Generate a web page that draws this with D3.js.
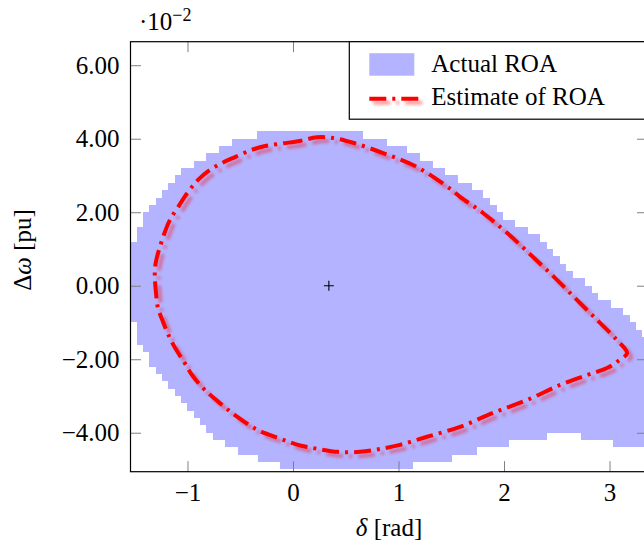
<!DOCTYPE html>
<meta charset="utf-8">
<style>
  body { margin: 0; background: #fff; }
  text { font-family: "Liberation Serif", "DejaVu Serif", serif; font-size: 25px; fill: #000; }
  .tick line { stroke: #808080; stroke-width: 1; }
</style>
<body>
<script src="https://cdn.jsdelivr.net/npm/d3@7"></script>
<script>

  // simulated region of attraction: grid rows (top edge in pu) and the
  // delta spans [from, to] in rad that are stable in each row
  var roaRowTop = [0.042, 0.040, 0.038, 0.036, 0.034, 0.032, 0.030, 0.028, 0.026, 0.024,
    0.022, 0.020, 0.018, 0.016, 0.014, 0.012, 0.010, 0.008, 0.006, 0.004,
    0.002, 0.000, -0.002, -0.004, -0.006, -0.008, -0.010, -0.012, -0.014, -0.016,
    -0.018, -0.020, -0.022, -0.024, -0.026, -0.028, -0.030, -0.032, -0.034, -0.036,
    -0.038, -0.040, -0.042, -0.044, -0.046, -0.048];
  var roaRowSpans = [
    [[-0.34, 0.66]], [[-0.58, 0.89]], [[-0.70, 1.08]], [[-0.82, 1.20]], [[-0.94, 1.33]],
    [[-1.06, 1.44]], [[-1.12, 1.56]], [[-1.18, 1.70]], [[-1.24, 1.80]], [[-1.30, 1.87]],
    [[-1.36, 1.93]], [[-1.42, 1.99]], [[-1.42, 2.10]], [[-1.48, 2.23]], [[-1.48, 2.34]],
    [[-1.60, 2.41]], [[-1.60, 2.46]], [[-1.60, 2.53]], [[-1.60, 2.59]], [[-1.60, 2.65]],
    [[-1.60, 2.77]], [[-1.60, 2.83]], [[-1.60, 2.89]], [[-1.60, 3.01]], [[-1.60, 3.13]],
    [[-1.60, 3.19]], [[-1.48, 3.25]], [[-1.48, 3.31]], [[-1.48, 3.45]], [[-1.42, 3.45]],
    [[-1.36, 3.45]], [[-1.36, 3.45]], [[-1.30, 3.45]], [[-1.24, 3.45]], [[-1.18, 3.45]],
    [[-1.12, 3.45]], [[-1.06, 3.45]], [[-1.00, 3.45]], [[-0.94, 3.45]], [[-0.88, 3.45]],
    [[-0.82, 3.45]], [[-0.76, 2.41], [2.73, 3.45]], [[-0.64, 2.05], [3.03, 3.45]],
    [[-0.52, 1.74]], [[-0.33, 1.51]], [[-0.12, 1.14]]
  ];
  var roaRowHeight = 0.002;

  // estimated ROA boundary (closed curve)
  var estDelta = [0.227, 0.066, -0.104, -0.265, -0.389, -0.550, -0.673, -0.787, -0.900, -0.995,
    -1.090, -1.166, -1.213, -1.261, -1.289, -1.308, -1.308, -1.299, -1.280, -1.232,
    -1.185, -1.118, -1.033, -0.957, -0.834, -0.673, -0.550, -0.332, -0.142, 0.047,
    0.237, 0.427, 0.635, 0.825, 1.014, 1.270, 1.583, 1.896, 2.218, 2.531,
    2.787, 2.976, 3.081, 3.166, 3.071, 2.910, 2.720, 2.502, 2.275, 2.028,
    1.801, 1.583, 1.488, 1.175, 0.853, 0.569, 0.379];
  var estOmega = [0.0404, 0.0394, 0.0387, 0.0380, 0.0370, 0.0350, 0.0334, 0.0315, 0.0288, 0.0255,
    0.0214, 0.0179, 0.0147, 0.0106, 0.0078, 0.0048, 0.0016, -0.0017, -0.0060, -0.0098,
    -0.0131, -0.0169, -0.0207, -0.0243, -0.0284, -0.0324, -0.0352, -0.0393, -0.0414, -0.0433,
    -0.0444, -0.0452, -0.0452, -0.0444, -0.0433, -0.0411, -0.0384, -0.0346, -0.0311, -0.0270,
    -0.0243, -0.0224, -0.0205, -0.0183, -0.0148, -0.0101, -0.0047, 0.0016, 0.0078, 0.0144,
    0.0198, 0.0242, 0.0264, 0.0323, 0.0361, 0.0389, 0.0402];

  var eqPoint = [0.34, 0];
  var xTicks = [-1, 0, 1, 2, 3];
  var yTicks = [-0.04, -0.02, 0, 0.02, 0.04, 0.06];
  var legendLabels = ["Actual ROA", "Estimate of ROA"];

  var margin = { top: 41.7, left: 130.5 },
    width = 517,
    height = 430;

  var x = d3.scaleLinear().domain([-1.54, 3.36]).range([0, width]);
  var y = d3.scaleLinear().domain([-0.0506, 0.0664]).range([height, 0]);

  var svg = d3.select("body").append("svg")
    .attr("width", 644)
    .attr("height", 550);

  var defs = svg.append("defs");
  defs.append("clipPath").attr("id", "plotclip")
    .append("rect").attr("width", width).attr("height", height);

  // soft shadow under the red curve
  var f = defs.append("filter").attr("id", "shadow")
    .attr("filterUnits", "userSpaceOnUse")
    .attr("x", -200).attr("y", -200).attr("width", 1200).attr("height", 1000);
  f.append("feGaussianBlur").attr("in", "SourceGraphic").attr("stdDeviation", 1.4).attr("result", "b");
  f.append("feOffset").attr("in", "b").attr("dx", 3.5).attr("dy", 3.5).attr("result", "o");
  f.append("feComponentTransfer").attr("in", "o").attr("result", "s")
    .append("feFuncA").attr("type", "linear").attr("slope", 0.38);
  var fm = f.append("feMerge");
  fm.append("feMergeNode").attr("in", "s");
  fm.append("feMergeNode").attr("in", "SourceGraphic");

  var g = svg.append("g")
    .attr("transform", "translate(" + margin.left + "," + margin.top + ")");

  var plot = g.append("g").attr("clip-path", "url(#plotclip)");

  // actual ROA cells
  var cells = [];
  roaRowTop.forEach(function (top, i) {
    roaRowSpans[i].forEach(function (s) {
      cells.push({ top: top, x0: s[0], x1: s[1] });
    });
  });
  plot.selectAll(".cell")
    .data(cells)
    .enter().append("rect")
    .attr("class", "cell")
    .attr("x", function (d) { return x(d.x0); })
    .attr("width", function (d) { return x(d.x1) - x(d.x0); })
    .attr("y", function (d) { return y(d.top); })
    .attr("height", function (d) { return y(d.top - roaRowHeight) - y(d.top); })
    .attr("fill", "#b3b3ff")
    .attr("shape-rendering", "crispEdges");

  // estimate of ROA
  var est = estDelta.map(function (d, i) { return [d, estOmega[i]]; });
  var line = d3.line()
    .x(function (d) { return x(d[0]); })
    .y(function (d) { return y(d[1]); })
    .curve(d3.curveCatmullRomClosed.alpha(0.5));

  plot.append("path")
    .datum(est)
    .attr("d", line)
    .attr("fill", "none")
    .attr("stroke", "#ff0000")
    .attr("stroke-width", 4)
    .attr("stroke-dasharray", "17,6,3,6")
    .attr("filter", "url(#shadow)");

  // equilibrium marker
  var ex = x(eqPoint[0]), ey = y(eqPoint[1]);
  plot.append("path")
    .attr("d", "M" + (ex - 5) + "," + ey + "H" + (ex + 5) + "M" + ex + "," + (ey - 5) + "V" + (ey + 5))
    .attr("stroke", "#000").attr("stroke-width", 1.1);

  // axes, ticks pointing inward on all sides
  var fmtY = function (d) { return (d * 100).toFixed(2).replace("-", "\u2212"); };
  var serif = function (a) {
    a.attr("font-family", "Liberation Serif, serif").attr("font-size", 25);
    a.select(".domain").remove();
  };

  g.append("g")
    .attr("transform", "translate(0," + height + ")")
    .call(d3.axisBottom(x).tickValues(xTicks).tickSize(-10.5).tickPadding(12).tickFormat(d3.format("d")))
    .call(serif);
  g.append("g")
    .call(d3.axisTop(x).tickValues(xTicks).tickSize(-10.5).tickFormat(""))
    .call(serif);
  g.append("g")
    .call(d3.axisLeft(y).tickValues(yTicks).tickSize(-10.5).tickPadding(11).tickFormat(fmtY))
    .call(serif);
  g.append("g")
    .attr("transform", "translate(" + width + ",0)")
    .call(d3.axisRight(y).tickValues(yTicks).tickSize(-10.5).tickFormat(""))
    .call(serif);

  g.append("rect")
    .attr("width", width).attr("height", height)
    .attr("fill", "none").attr("stroke", "#000").attr("stroke-width", 1.2);

  // legend
  var lg = svg.append("g").attr("transform", "translate(349.3,41.7)");
  lg.append("rect").attr("width", 310).attr("height", 77.5)
    .attr("fill", "#fff").attr("stroke", "#000").attr("stroke-width", 1.2);
  lg.append("rect").attr("x", 20).attr("y", 11.5).attr("width", 45).attr("height", 22.5)
    .attr("fill", "#b3b3ff");
  lg.append("path").attr("d", "M20,57H71")
    .attr("stroke", "#ff0000").attr("stroke-width", 4)
    .attr("stroke-dasharray", "17,6,3,6")
    .attr("filter", "url(#shadow)");
  lg.selectAll(".lab")
    .data(legendLabels)
    .enter().append("text")
    .attr("class", "lab")
    .attr("x", 82)
    .attr("y", function (d, i) { return i === 0 ? 30 : 63.5; })
    .text(function (d) { return d; });

  // scale factor above the y axis
  var sc = svg.append("text").attr("x", 139).attr("y", 29.5);
  sc.append("tspan").text("\u00b710");
  sc.append("tspan").attr("dy", -9).style("font-size", "18px").text("\u22122");

  // axis labels
  var xl = svg.append("text")
    .attr("x", margin.left + width / 2).attr("y", 536)
    .style("text-anchor", "middle");
  xl.append("tspan").style("font-style", "italic").text("\u03b4");
  xl.append("tspan").text(" [rad]");

  var yl = svg.append("text")
    .attr("transform", "translate(31,250) rotate(-90)")
    .style("text-anchor", "middle");
  yl.append("tspan").text("\u0394");
  yl.append("tspan").style("font-style", "italic").text("\u03c9");
  yl.append("tspan").text(" [pu]");

</script>
</body>
